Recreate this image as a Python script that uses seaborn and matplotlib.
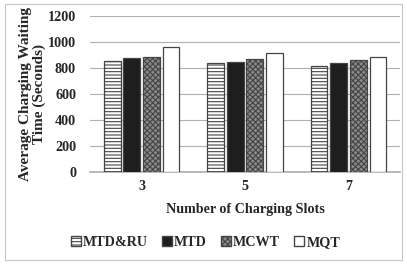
import matplotlib
matplotlib.use("Agg")
import matplotlib.pyplot as plt
import seaborn as sns
import pandas as pd
from matplotlib.patches import Patch, Rectangle

categories = ["3", "5", "7"]
series = ["MTD&RU", "MTD", "MCWT", "MQT"]
mtd_ru = [854, 839, 818]
mtd = [880, 846, 836]
mcwt = [885, 867, 860]
mqt = [964, 918, 885]
yticks = [0, 200, 400, 600, 800, 1000, 1200]

rows = []
for s, vals in zip(series, [mtd_ru, mtd, mcwt, mqt]):
    for c, v in zip(categories, vals):
        rows.append({"slots": c, "method": s, "value": v})
df = pd.DataFrame(rows)

sns.set_theme(style="white")
plt.rcParams['font.family'] = ['Liberation Serif', 'DejaVu Serif']
plt.rcParams['font.weight'] = 'bold'
plt.rcParams['hatch.linewidth'] = 0.8

fig = plt.figure(figsize=(4.07, 2.64), dpi=100)
ax = fig.add_axes([0.221, 0.348, 0.762, 0.591])

fills = ["white", "#1e1e1e", "#8a8a8a", "white"]
hatches = ["-----", "", "xxxxxx", ""]
hcolors = ["#222222", "#1e1e1e", "#dddddd", "white"]
palette = dict(zip(series, fills))

sns.barplot(data=df, x="slots", y="value", hue="method", hue_order=series,
            order=categories, palette=palette, ax=ax, width=0.76,
            saturation=1, legend=False, zorder=3, edgecolor="#444444", linewidth=0.9)

for i, cont in enumerate(ax.containers):
    for bar in cont:
        bar.set_facecolor(fills[i])
        if hatches[i]:
            bar.set_hatch(hatches[i])
            bar._hatch_color = matplotlib.colors.to_rgba(hcolors[i])
        bar.set_edgecolor("#444444")
        w = bar.get_width()
        x = bar.get_x()
        nw = w * 0.85
        bar.set_x(x + (w - nw) / 2)
        bar.set_width(nw)

fs = 10.2
ax.set_ylim(0, 1200)
ax.set_yticks(yticks)
ax.set_yticklabels([str(t) for t in yticks], fontsize=fs, fontweight='bold')
ax.set_xticklabels(categories, fontsize=fs, fontweight='bold')
ax.yaxis.grid(True, color="#b0b0b0", linewidth=0.8, zorder=0)
ax.set_axisbelow(True)
for s in ["left", "right", "top"]:
    ax.spines[s].set_visible(False)
ax.spines["bottom"].set_color("#b0b0b0")
ax.tick_params(axis='x', length=0, pad=6)
ax.tick_params(axis='y', length=0, pad=10)
ax.set_xlabel("Number of Charging Slots", fontsize=fs, fontweight='bold', labelpad=7)
ax.set_ylabel("Average Charging Waiting\nTime (Seconds)", fontsize=11, fontweight='bold', labelpad=1, linespacing=1.05)

handles = []
for i, s in enumerate(series):
    p = Patch(facecolor=fills[i], edgecolor="#444444", hatch=hatches[i] if hatches[i] else None, label=s)
    handles.append(p)
leg = fig.legend(handles=handles, loc="center", bbox_to_anchor=(0.505, 0.08), ncol=4,
                 frameon=False, handlelength=0.7, handleheight=0.7,
                 handletextpad=0.15, columnspacing=1.0, prop={'weight': 'bold', 'size': fs})

fig.add_artist(Rectangle((0.012, 0.015), 0.976, 0.97, transform=fig.transFigure,
                         fill=False, edgecolor="#c8c8c8", linewidth=0.8))

fig.savefig("out.png", dpi=100)
